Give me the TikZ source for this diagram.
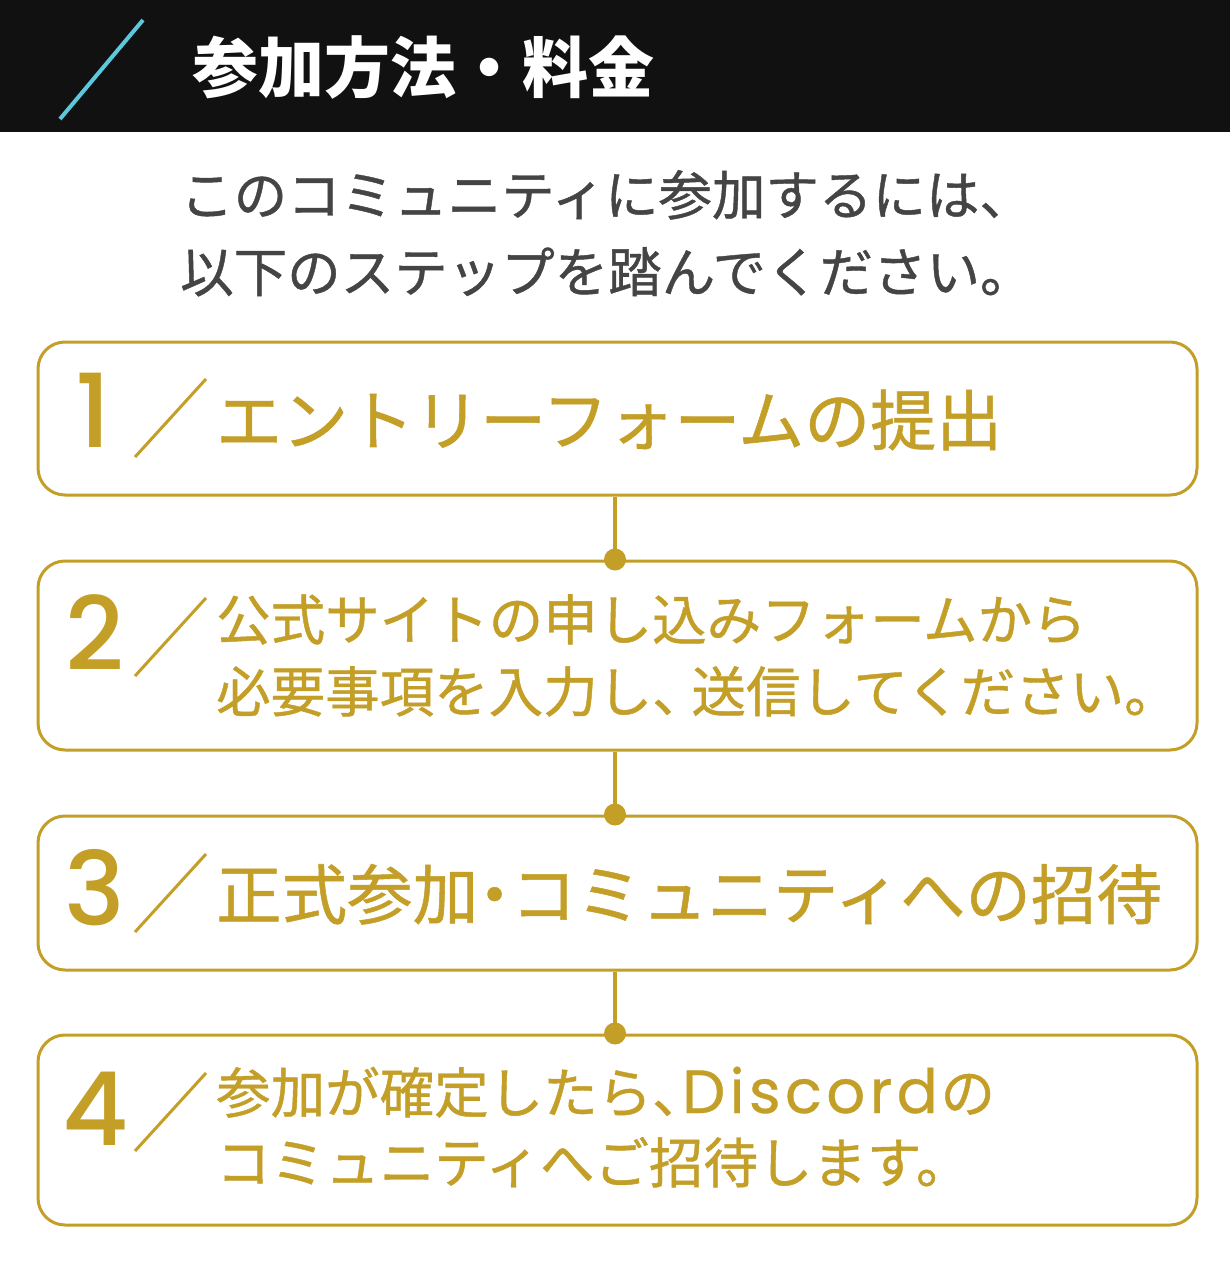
\documentclass[tikz,border=0pt]{standalone}
\usepackage{fontspec}
\newfontfamily\jp{Noto Sans CJK JP}
\newfontfamily\jpm{Noto Sans CJK JP}[FakeBold=0.8]
\newfontfamily\numfont{Poppins Medium}
\newfontfamily\latin{Poppins}[LetterSpace=7,FakeBold=0.5]
\definecolor{gold}{RGB}{196,159,40}
\definecolor{hdr}{RGB}{17,17,17}
\definecolor{cyanline}{RGB}{92,200,220}
\definecolor{introgray}{RGB}{68,68,68}
\tikzset{
  stepbox/.style={draw=gold, line width=3pt, rounded corners=27pt, minimum width=1159pt, inner sep=0pt},
  conn/.style={draw=gold, line width=4pt},
  slashline/.style={draw=gold, line width=3pt},
  numtxt/.style={text=gold, inner sep=0pt, anchor=base, font=\numfont\fontsize{102}{102}\selectfont},
  bigtxt/.style={text=gold, inner sep=0pt, anchor=base west, font=\jpm\fontsize{66}{66}\selectfont},
  smalltxt/.style={text=gold, inner sep=0pt, anchor=base west, font=\jpm\fontsize{54.5}{54.5}\selectfont},
  introtxt/.style={text=introgray, inner sep=0pt, anchor=base west, font=\jpm\fontsize{53.5}{53.5}\selectfont},
}
\begin{document}
\begin{tikzpicture}[x=1pt,y=-1pt]
\useasboundingbox (0,0) rectangle (1230,1268);
\fill[white] (0,0) rectangle (1230,1268);
% header
\fill[hdr] (0,0) rectangle (1230,132);
\draw[cyanline, line width=4pt] (60,119) -- (143,20);
\node[text=white, inner sep=0pt, anchor=base west, font=\jp\bfseries\fontsize{66}{66}\selectfont] (title) at (192,93) {参加方法・料金};
% intro
\node[introtxt] (intro1) at (180,215) {このコミュニティに参加するには、};
\node[introtxt] (intro2) at (180,292) {以下のステップを踏んでください。};
% boxes
\node[stepbox, minimum height=153pt] (b1) at (617.5,418.5) {};
\node[stepbox, minimum height=189pt] (b2) at (617.5,655.5) {};
\node[stepbox, minimum height=154pt] (b3) at (617.5,893) {};
\node[stepbox, minimum height=190pt] (b4) at (617.5,1130) {};
% connectors
\foreach \a/\b in {b1/b2,b2/b3,b3/b4}{
  \draw[conn] ([xshift=-2.5pt]\a.south) -- ([xshift=-2.5pt]\b.north);
  \fill[gold] ([xshift=-2.5pt]\b.north) circle (11pt);
}
% step 1
\node[numtxt] (n1) at (93,447) {1};
\coordinate (s1a) at (135,457); \coordinate (s1b) at (206,379);
\draw[slashline] (s1a) -- (s1b);
\node[bigtxt] (t1) at (216,445) {エントリーフォームの提出};
% step 2
\node[numtxt] (n2) at (95,670) {2};
\coordinate (s2a) at (135,676); \coordinate (s2b) at (206,598);
\draw[slashline] (s2a) -- (s2b);
\node[smalltxt] (t2a) at (216,640) {公式サイトの申し込みフォームから};
\node[smalltxt] (t2b) at (216,712) {必要事項を入力し、\hspace{-0.28em}送信してください。};
% step 3
\node[numtxt] (n3) at (95,925) {3};
\coordinate (s3a) at (135,932); \coordinate (s3b) at (206,854);
\draw[slashline] (s3a) -- (s3b);
\node[bigtxt, font=\jpm\fontsize{65.5}{65.5}\selectfont] (t3) at (216,919) {正式参加\hspace{-0.25em}・\hspace{-0.25em}コミュニティへの招待};
% step 4
\node[numtxt] (n4) at (95,1145) {4};
\coordinate (s4a) at (135,1151); \coordinate (s4b) at (206,1073);
\draw[slashline] (s4a) -- (s4b);
\node[smalltxt] (t4a) at (216,1113) {参加が確定したら、\hspace{-0.45em}{\latin\fontsize{61}{61}\selectfont Discord}\hspace{0.05em}の};
\node[smalltxt] (t4b) at (216,1183) {コミュニティへご招待します。};
\end{tikzpicture}
\end{document}
